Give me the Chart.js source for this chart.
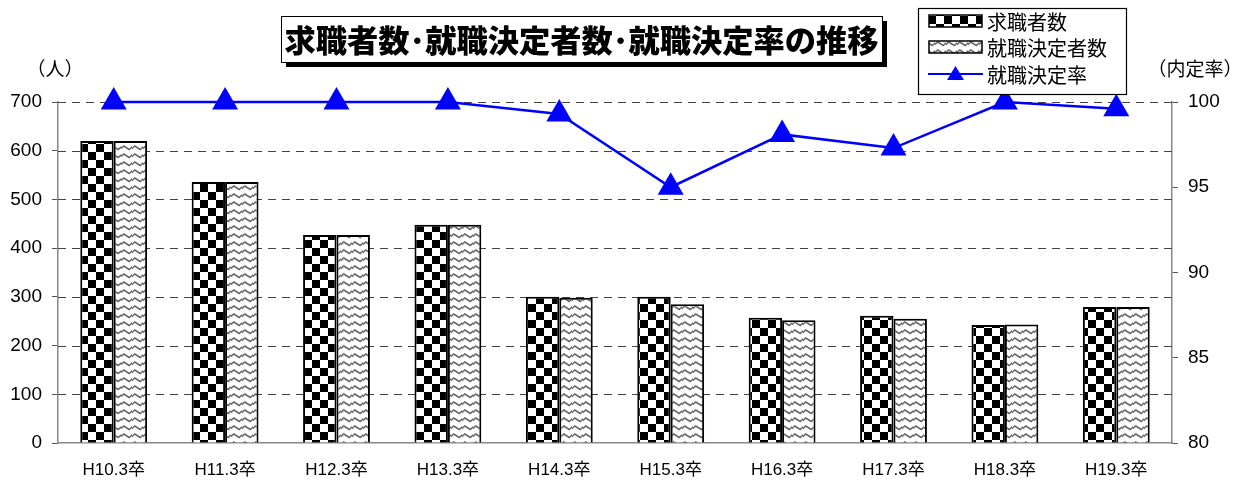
<!DOCTYPE html>
<html><head><meta charset="utf-8">
<script src="https://cdn.jsdelivr.net/npm/chart.js@4"></script>
<style>html,body{margin:0;padding:0;background:#fff}#wrap{width:1242px;height:481px}</style>
</head><body><div id="wrap"><canvas id="c" width="1242" height="481"></canvas></div>
<script>
const categories = ['H10.3卒','H11.3卒','H12.3卒','H13.3卒','H14.3卒','H15.3卒','H16.3卒','H17.3卒','H18.3卒','H19.3卒'];
const jobSeekers = [620, 536, 427, 448, 300, 300, 257, 261, 242, 279];
const employed   = [620, 536, 427, 448, 298, 285, 252, 255, 243, 279];
const rate       = [100, 100, 100, 100, 99.3, 95.0, 98.1, 97.3, 100, 99.6];
const leftTicks = [0,100,200,300,400,500,600,700];
const rightTicks = [80,85,90,95,100];
const chartTitle = '求職者数･就職決定者数･就職決定率の推移';
const seriesNames = ['求職者数','就職決定者数','就職決定率'];
const JP = '"Liberation Sans", "Noto Sans CJK JP", sans-serif';

function checker(){
  const c=document.createElement('canvas');c.width=16;c.height=16;const g=c.getContext('2d');
  g.fillStyle='#fff';g.fillRect(0,0,16,16);g.fillStyle='#000';g.fillRect(0,0,8,8);g.fillRect(8,8,8,8);
  return g.createPattern(c,'repeat');
}
function wave(){
  const c=document.createElement('canvas');c.width=11;c.height=8;const g=c.getContext('2d');
  g.fillStyle='#fff';g.fillRect(0,0,11,8);g.strokeStyle='#666';g.lineWidth=1.5;
  g.beginPath();g.moveTo(-1,5.5);g.lineTo(2.75,2);g.lineTo(8.25,5.5);g.lineTo(12,2);
  g.stroke();
  return g.createPattern(c,'repeat');
}
const pChecker=checker(), pWave=wave();

const gridDash = {
  id:'gridDash',
  beforeDatasetsDraw(chart){
    const ctx=chart.ctx, a=chart.chartArea, y=chart.scales.y;
    ctx.save();ctx.strokeStyle='#444';ctx.lineWidth=1;ctx.setLineDash([8,6]);
    leftTicks.forEach(v=>{ if(v===0) return;
      const py=Math.round(y.getPixelForValue(v))+0.5;
      ctx.beginPath();ctx.moveTo(a.left,py);ctx.lineTo(a.right,py);ctx.stroke();});
    ctx.restore();
  }
};

const deco = {
  id:'deco',
  afterDraw(chart){
    const ctx=chart.ctx;ctx.save();
    const bx=281,by=16,bw=601,bh=46;
    ctx.fillStyle='#000';ctx.fillRect(bx+5,by+5,bw,bh);
    ctx.fillStyle='#fff';ctx.fillRect(bx,by,bw,bh);
    ctx.strokeStyle='#000';ctx.lineWidth=1;ctx.strokeRect(bx+0.5,by+0.5,bw,bh);
    let fs=31;ctx.font='900 '+fs+'px "Noto Sans CJK JP"';
    let w=ctx.measureText(chartTitle).width;
    const target=594;
    ctx.fillStyle='#000';ctx.textAlign='left';ctx.textBaseline='middle';
    ctx.save();ctx.translate(bx+(bw-target)/2,by+bh/2+1);ctx.scale(target/w,1);
    ctx.fillText(chartTitle,0,0);ctx.restore();
    const lx=918,ly=8,lw=208,lh=86;
    ctx.fillStyle='#fff';ctx.fillRect(lx,ly,lw,lh);
    ctx.strokeStyle='#000';ctx.lineWidth=1.2;ctx.strokeRect(lx+0.5,ly+0.5,lw,lh);
    ctx.font='20px "Noto Sans CJK JP"';ctx.textBaseline='middle';
    const rows=[21,47,74];
    ctx.fillStyle=pChecker;ctx.fillRect(929,15,53,12);ctx.strokeStyle='#000';ctx.lineWidth=1.5;ctx.strokeRect(929,15,53,12);
    ctx.fillStyle=pWave;ctx.fillRect(929,41,53,12);ctx.strokeRect(929,41,53,12);
    ctx.strokeStyle='#0000ff';ctx.lineWidth=2;ctx.beginPath();ctx.moveTo(928,74);ctx.lineTo(983,74);ctx.stroke();
    ctx.fillStyle='#0000ff';ctx.beginPath();ctx.moveTo(955.5,66);ctx.lineTo(964,80);ctx.lineTo(947,80);ctx.closePath();ctx.fill();
    ctx.fillStyle='#000';ctx.textAlign='left';
    seriesNames.forEach((s,i)=>ctx.fillText(s,987,rows[i]+1));
    ctx.font='19px "Noto Sans CJK JP"';ctx.textAlign='center';
    ctx.fillText('（人）',55,69);
    ctx.fillText('（内定率）',1195,69);
    ctx.restore();
  }
};

new Chart(document.getElementById('c'),{
  data:{labels:categories,datasets:[
    {type:'line',label:seriesNames[2],data:rate,yAxisID:'y1',borderColor:'#0000ff',backgroundColor:'#0000ff',borderWidth:2.5,
      pointStyle:'triangle',pointRadius:15,pointHoverRadius:15,pointBorderWidth:0,order:0,clip:false},
    {type:'bar',label:seriesNames[0],data:jobSeekers,yAxisID:'y',backgroundColor:pChecker,borderColor:'#000',borderWidth:2,
      categoryPercentage:0.6,barPercentage:1.0,order:1},
    {type:'bar',label:seriesNames[1],data:employed,yAxisID:'y',backgroundColor:pWave,borderColor:'#000',borderWidth:2,
      categoryPercentage:0.6,barPercentage:1.0,order:1}
  ]},
  options:{
    responsive:false,animation:false,devicePixelRatio:1,
    layout:{padding:{top:102,bottom:0,left:0,right:0}},
    plugins:{legend:{display:false},tooltip:{enabled:false},title:{display:false}},
    scales:{
      x:{grid:{display:false,drawTicks:false},border:{color:'#888',width:1.5},
         afterFit(a){a.height=38;},
         ticks:{color:'#000',font:{family:JP,size:17},padding:17}},
      y:{position:'left',min:0,max:700,afterBuildTicks(a){a.ticks=leftTicks.map(v=>({value:v}));},
         afterFit(a){a.width=58;},
         grid:{display:true,drawOnChartArea:false,tickColor:'#555',tickLength:6,lineWidth:1},
         border:{color:'#888',width:1.5},
         ticks:{color:'#000',font:{family:JP,size:19},padding:10}},
      y1:{position:'right',min:80,max:100,afterBuildTicks(a){a.ticks=rightTicks.map(v=>({value:v}));},
         afterFit(a){a.width=70;},
         grid:{display:true,drawOnChartArea:false,tickLength:6,tickColor:'#555'},
         border:{color:'#888',width:1.5},
         ticks:{color:'#000',font:{family:JP,size:19},padding:10}}
    }
  },
  plugins:[gridDash,deco]
});
</script></body></html>
